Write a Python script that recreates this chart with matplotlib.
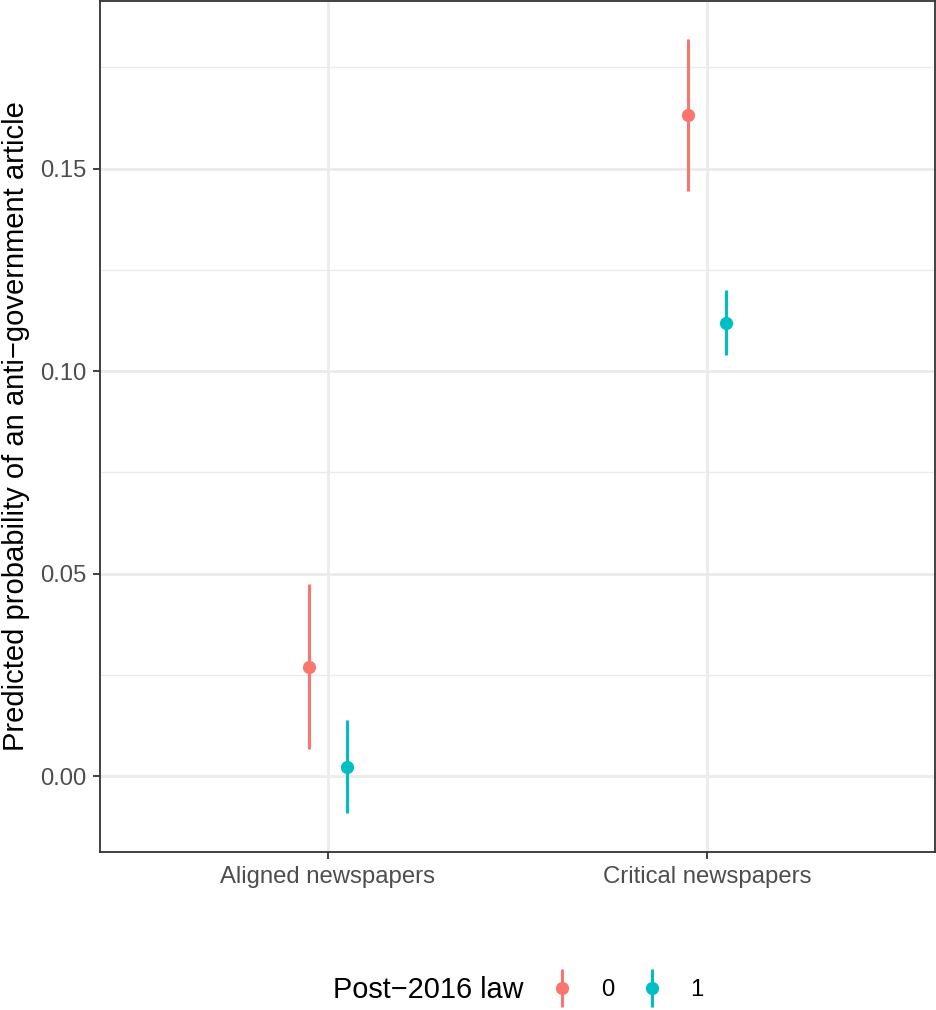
import numpy as np
import matplotlib.pyplot as plt
from matplotlib.lines import Line2D
from matplotlib.legend_handler import HandlerTuple
from matplotlib.ticker import MultipleLocator

plt.rcParams['font.family'] = ['Liberation Sans', 'DejaVu Sans']

categories = ["Aligned newspapers", "Critical newspapers"]
groups = ["0", "1"]
colors = ["#F8766D", "#00BFC4"]

# predicted probabilities with lower / upper bounds, one list per group
est = {"0": [0.0270, 0.1632],
       "1": [0.0023, 0.1120]}
low = {"0": [0.0067, 0.1445],
       "1": [-0.0091, 0.1040]}
high = {"0": [0.0474, 0.1820],
        "1": [0.0138, 0.1200]}

yticks = [0.00, 0.05, 0.10, 0.15]

fig = plt.figure(figsize=(9.37, 10.1), dpi=100)
ax = fig.add_axes([100 / 937, 1 - 852 / 1010, 835 / 937, 851 / 1010])

x = np.arange(1, len(categories) + 1)
dodge = [-0.05, 0.05]
handles = []
for g, c, d in zip(groups, colors, dodge):
    e = np.array(est[g])
    lo = np.array(low[g])
    hi = np.array(high[g])
    ax.errorbar(x + d, e, yerr=[e - lo, hi - e], fmt='o', color=c,
                ecolor=c, elinewidth=2.2, markersize=8.5, capsize=0,
                zorder=3)
    bar = Line2D([], [], linestyle='none', marker='|', markersize=28,
                 markeredgewidth=2.2, color=c)
    dot = Line2D([], [], linestyle='none', marker='o', markersize=8.5,
                 color=c)
    handles.append((bar, dot))

ax.set_xlim(0.4, 2.6)
ax.set_ylim(-0.0187, 0.1914)
ax.set_xticks(x)
ax.set_xticklabels(categories)
ax.set_yticks(yticks)
ax.set_yticklabels(["%.2f" % v for v in yticks])
ax.yaxis.set_minor_locator(MultipleLocator(0.025))
ax.tick_params(axis='y', which='minor', length=0)

ax.grid(True, which='major', color='#EBEBEB', linewidth=2.0, zorder=0)
ax.grid(True, which='minor', axis='y', color='#EBEBEB', linewidth=1.0, zorder=0)
ax.set_axisbelow(True)
for s in ax.spines.values():
    s.set_color('#333333')
    s.set_linewidth(1.3)
ax.tick_params(axis='both', which='major', colors='#333333', length=5,
               width=1.3, labelsize=17.2, labelcolor='#4D4D4D', pad=5)

ax.set_ylabel("Predicted probability of an anti\u2212government article",
              fontsize=21, labelpad=7)

fig.text(333 / 937, 1 - 990 / 1010, "Post\u22122016 law", fontsize=20.8,
         ha='left', va='center')
fig.legend(handles, groups, loc='center left',
           bbox_to_anchor=(529 / 937, 1 - 990 / 1010), ncol=2, frameon=False,
           fontsize=17.2, handlelength=1.0, handletextpad=1.1,
           columnspacing=1.1,
           handler_map={tuple: HandlerTuple(ndivide=1, pad=0)})

fig.savefig("out.png", dpi=100)
